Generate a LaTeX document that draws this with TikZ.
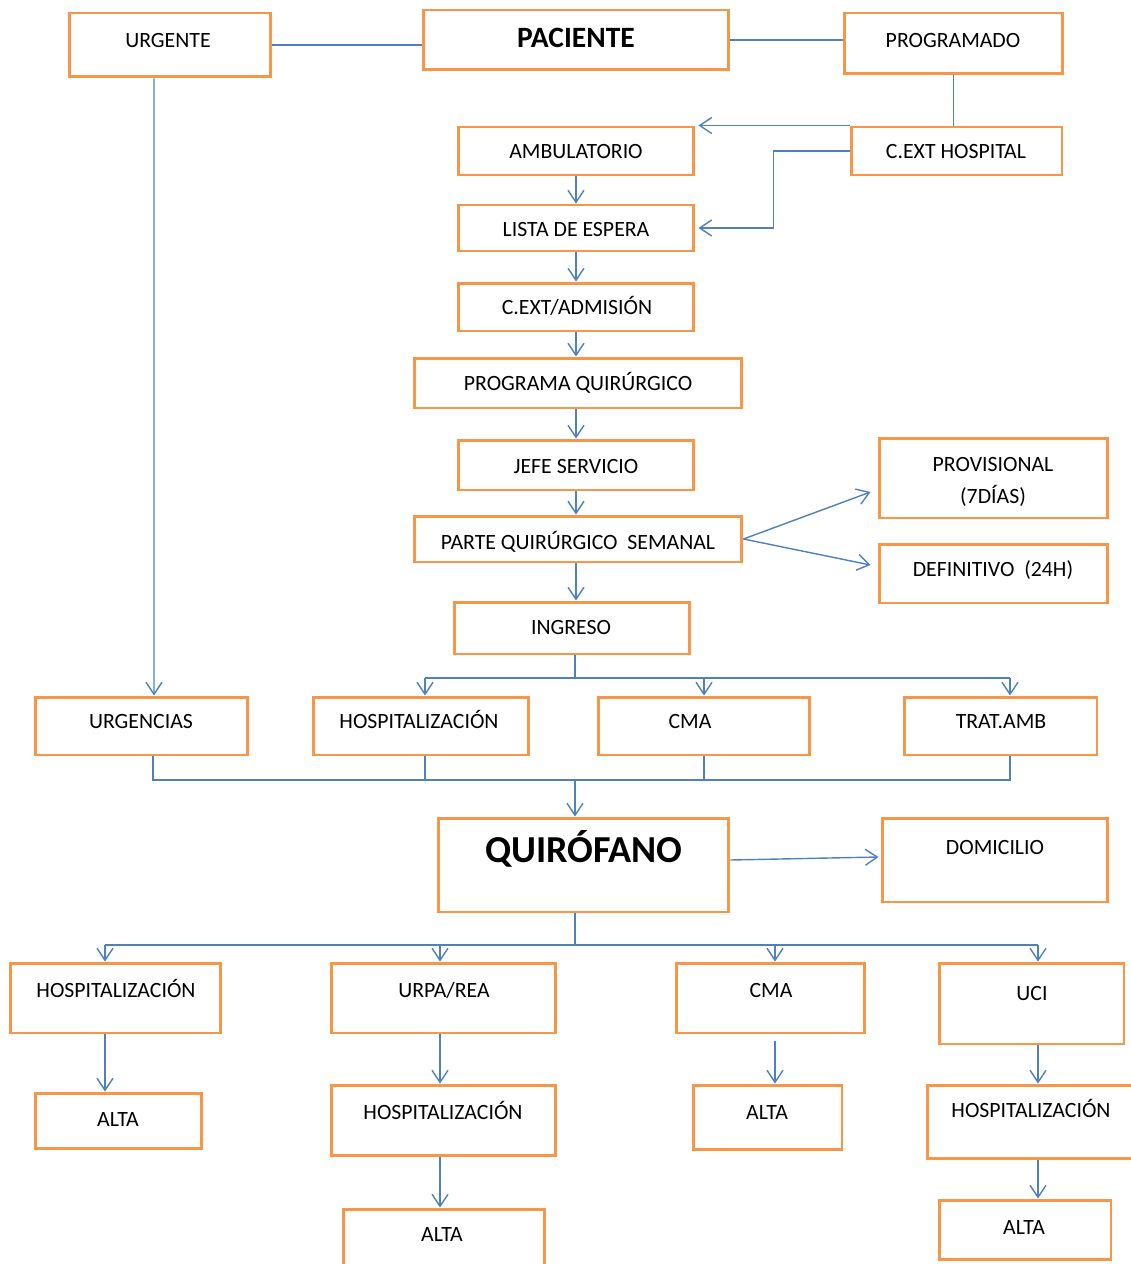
\documentclass[tikz,border=0pt]{standalone}
\usepackage{fontspec}
\setmainfont{Carlito}
\usepackage{xcolor}
\usepackage{tikz}
\usetikzlibrary{arrows.meta,positioning,calc}
\definecolor{boxorange}{HTML}{F79646}
\definecolor{linkblue}{HTML}{4F81BD}

\begin{document}
\begin{tikzpicture}[
    x=0.02cm, y=-0.02cm,
    box/.style={rectangle, draw=boxorange, line width=1.7pt, fill=white, inner sep=0pt},
    txt/.style={inner sep=0pt, font=\fontsize{12.4}{14}\selectfont, text height=0.64em, text depth=0pt, yshift=-0.045cm},
    bigtxt/.style={inner sep=0pt, font=\fontsize{16.8}{19}\selectfont\bfseries, text height=0.64em, text depth=0pt, yshift=-0.08cm},
    hugetxt/.style={inner sep=0pt, font=\fontsize{21.7}{25}\selectfont\bfseries, text height=0.64em, text depth=0pt, yshift=-0.14cm},
    link/.style={draw=linkblue, line width=0.8pt},
    arr/.style={link, -{Straight Barb[length=2.4mm, width=3.2mm]}}
]
    \useasboundingbox (0,0) rectangle (1131,1264);

    % Top row
    \node[box, minimum width=4.04cm, minimum height=1.28cm] (urgente) at (170,45) {};
    \node[txt] (urgente-t) at (168,40) {URGENTE};
    \node[box, minimum width=6.12cm, minimum height=1.2cm] (paciente) at (576,40) {};
    \node[bigtxt] (paciente-t) at (576,38) {PACIENTE};
    \node[box, minimum width=4.38cm, minimum height=1.22cm] (programado) at (953.5,43.5) {};
    \node[txt] (programado-t) at (953,40) {PROGRAMADO};

    % Programmed path
    \node[box, minimum width=4.72cm, minimum height=0.96cm] (ambulatorio) at (576,151) {};
    \node[txt] (ambulatorio-t) at (576,151) {AMBULATORIO};
    \node[box, minimum width=4.22cm, minimum height=0.96cm] (cexthosp) at (956.5,151) {};
    \node[txt] (cexthosp-t) at (956,151) {C.EXT HOSPITAL};
    \node[box, minimum width=4.72cm, minimum height=0.92cm] (lista) at (576,228) {};
    \node[txt] (lista-t) at (576,229) {LISTA DE ESPERA};
    \node[box, minimum width=4.72cm, minimum height=0.96cm] (admision) at (576,307) {};
    \node[txt] (admision-t) at (577,307) {C.EXT/ADMISIÓN};
    \node[box, minimum width=6.56cm, minimum height=1.0cm] (programa) at (578,383) {};
    \node[txt] (programa-t) at (578,383) {PROGRAMA QUIRÚRGICO};
    \node[box, minimum width=4.72cm, minimum height=1.0cm] (jefe) at (576,465) {};
    \node[txt] (jefe-t) at (576,466) {JEFE SERVICIO};
    \node[box, minimum width=6.56cm, minimum height=0.92cm] (parte) at (578,539) {};
    \node[txt] (parte-t) at (578,542) {PARTE QUIRÚRGICO\ \ SEMANAL};
    \node[box, minimum width=4.58cm, minimum height=1.6cm] (provisional) at (993.5,478) {};
    \node[txt] (provisional-t) at (993,464) {PROVISIONAL};
    \node[txt] (provisional-t2) at (993,496) {(7DÍAS)};
    \node[box, minimum width=4.58cm, minimum height=1.18cm] (definitivo) at (993.5,573.5) {};
    \node[txt] (definitivo-t) at (993,569) {DEFINITIVO\ \ (24H)};
    \node[box, minimum width=4.72cm, minimum height=1.04cm] (ingreso) at (572,628) {};
    \node[txt] (ingreso-t) at (571,627) {INGRESO};

    % Admission row
    \node[box, minimum width=4.26cm, minimum height=1.16cm] (urgencias) at (141.5,726) {};
    \node[txt] (urgencias-t) at (141,721) {URGENCIAS};
    \node[box, minimum width=4.32cm, minimum height=1.16cm] (hospa) at (421,726) {};
    \node[txt] (hospa-t) at (419,721) {HOSPITALIZACIÓN};
    \node[box, minimum width=4.24cm, minimum height=1.16cm] (cmaa) at (704,726) {};
    \node[txt] (cmaa-t) at (690,721) {CMA};
    \node[box, minimum width=3.86cm, minimum height=1.16cm] (tratamb) at (1000.5,726) {};
    \node[txt] (tratamb-t) at (1001,721) {TRAT.AMB};

    % Operating room
    \node[box, minimum width=5.82cm, minimum height=1.88cm] (quirofano) at (583.5,865) {};
    \node[hugetxt] (quirofano-t) at (584,850) {QUIRÓFANO};
    \node[box, minimum width=4.52cm, minimum height=1.68cm] (domicilio) at (995,860) {};
    \node[txt] (domicilio-t) at (995,847) {DOMICILIO};

    % After surgery
    \node[box, minimum width=4.22cm, minimum height=1.4cm] (hospb) at (115.5,998) {};
    \node[txt] (hospb-t) at (116,990) {HOSPITALIZACIÓN};
    \node[box, minimum width=4.5cm, minimum height=1.4cm] (urpa) at (443.5,998) {};
    \node[txt] (urpa-t) at (444,990) {URPA/REA};
    \node[box, minimum width=3.78cm, minimum height=1.4cm] (cmab) at (770.5,998) {};
    \node[txt] (cmab-t) at (771,990) {CMA};
    \node[box, minimum width=3.7cm, minimum height=1.62cm] (uci) at (1031.5,1003.5) {};
    \node[txt] (uci-t) at (1032,993) {UCI};

    \node[box, minimum width=3.34cm, minimum height=1.1cm] (altaa) at (118.5,1120.5) {};
    \node[txt] (altaa-t) at (118,1119) {ALTA};
    \node[box, minimum width=4.5cm, minimum height=1.4cm] (hospc) at (443.5,1120) {};
    \node[txt] (hospc-t) at (443,1112) {HOSPITALIZACIÓN};
    \node[box, minimum width=4.04cm, minimum height=1.6cm] (altab) at (444,1249) {};
    \node[txt] (altab-t) at (442,1234) {ALTA};
    \node[box, minimum width=2.98cm, minimum height=1.28cm] (altac) at (767.5,1117) {};
    \node[txt] (altac-t) at (767,1112) {ALTA};
    \node[box, minimum width=4.36cm, minimum height=1.46cm] (hospd) at (1036,1121.5) {};
    \node[txt] (hospd-t) at (1031,1110) {HOSPITALIZACIÓN};
    \node[box, minimum width=3.44cm, minimum height=1.18cm] (altad) at (1025,1229.5) {};
    \node[txt] (altad-t) at (1024,1227) {ALTA};

    % Bus points
    \coordinate (bus1) at (575,678);
    \coordinate (bus2) at (575,780);
    \coordinate (bus3) at (575,945);
    \coordinate (col1) at (105,945);
    \coordinate (col2) at (440,945);
    \coordinate (col3) at (775,945);
    \coordinate (col4) at (1038,945);

    % Connectors, top part
    \draw[link] (urgente.east) -- (urgente.east -| paciente.west);
    \draw[link] (paciente.east) -- (paciente.east -| programado.west);
    \draw[link] (programado.south) -- (programado.south |- cexthosp.north);
    \draw[arr] (cexthosp.north west) -- ([xshift=0.06cm]cexthosp.north west -| ambulatorio.east);
    \draw[arr] (cexthosp.west) -- ++(-76,0) |- ([xshift=0.06cm]lista.east);
    \draw[arr] ([xshift=-0.32cm]urgente.south) -- ([xshift=0.25cm]urgencias.north);

    % Connectors, main chain
    \draw[arr] (ambulatorio.south) -- (lista.north);
    \draw[arr] (lista.south) -- (admision.south |- admision.north);
    \draw[arr] (admision.south) -- (admision.south |- programa.north);
    \draw[arr] (admision.south |- programa.south) -- (admision.south |- jefe.north);
    \draw[arr] (jefe.south) -- (jefe.south |- parte.north);
    \draw[arr] (parte.east) -- ([xshift=-0.14cm, yshift=-0.28cm]provisional.west);
    \draw[arr] (parte.east) -- ([xshift=-0.14cm, yshift=0.17cm]definitivo.west);
    \draw[arr] (jefe.south |- parte.south) -- (jefe.south |- ingreso.north);

    % Admission bus
    \draw[link] (bus1 |- ingreso.south) -- (bus1);
    \draw[link] ([xshift=0.08cm]bus1 -| hospa.north) -- ([xshift=0.19cm]bus1 -| tratamb.north);
    \draw[arr] ([xshift=0.08cm]bus1 -| hospa.north) -- ([xshift=0.08cm]hospa.north);
    \draw[arr] (bus1 -| cmaa.north) -- (cmaa.north);
    \draw[arr] ([xshift=0.19cm]bus1 -| tratamb.north) -- ([xshift=0.19cm]tratamb.north);

    % Merge into QUIROFANO
    \draw[link] ([xshift=0.23cm]urgencias.south) -- ([xshift=0.23cm]bus2 -| urgencias.south)
        -- ([xshift=0.19cm]bus2 -| tratamb.south) -- ([xshift=0.19cm]tratamb.south);
    \draw[link] ([xshift=0.08cm]hospa.south) -- ([xshift=0.08cm]bus2 -| hospa.south);
    \draw[link] (cmaa.south) -- (bus2 -| cmaa.south);
    \draw[arr] (bus2) -- (bus2 |- quirofano.north);
    \draw[arr] ([yshift=0.1cm]quirofano.east) -- ([xshift=-0.04cm, yshift=0.06cm]domicilio.west);

    % Exit bus
    \draw[link] (bus3 |- quirofano.south) -- (bus3);
    \draw[link] (col1) -- (col4);
    \draw[arr] (col1) -- (col1 |- hospb.north);
    \draw[arr] (col2) -- (col2 |- urpa.north);
    \draw[arr] (col3) -- (col3 |- cmab.north);
    \draw[arr] (col4) -- (col4 |- uci.north);

    % Exits to ALTA
    \draw[arr] (col1 |- hospb.south) -- (col1 |- altaa.north);
    \draw[arr] (col2 |- urpa.south) -- (col2 |- hospc.north);
    \draw[arr] (col2 |- hospc.south) -- (col2 |- altab.north);
    \draw[arr] ([yshift=-0.14cm]col3 |- cmab.south) -- (col3 |- altac.north);
    \draw[arr] (col4 |- uci.south) -- (col4 |- hospd.north);
    \draw[arr] (col4 |- hospd.south) -- (col4 |- altad.north);
\end{tikzpicture}
\end{document}
